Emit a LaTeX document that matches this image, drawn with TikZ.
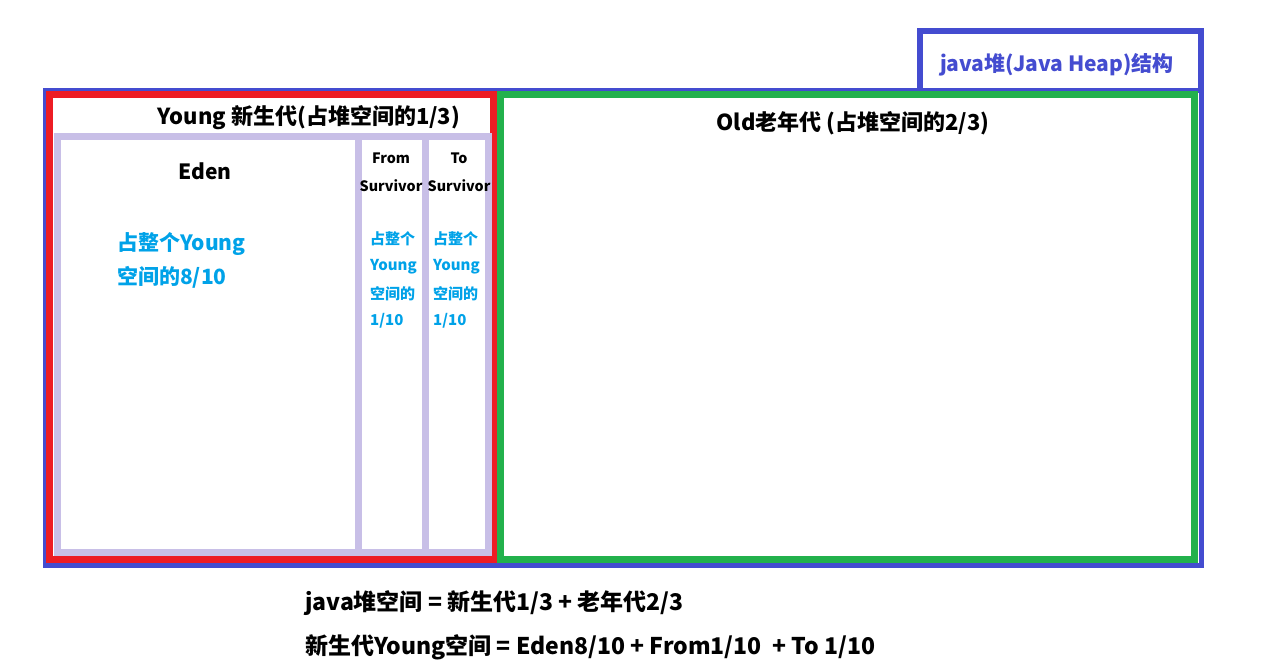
\documentclass[tikz,border=0pt]{standalone}
\usepackage{fontspec}
\setmainfont{Noto Sans CJK SC}
\usetikzlibrary{calc}
\definecolor{heapblue}{RGB}{68,76,208}
\definecolor{youngred}{RGB}{237,28,36}
\definecolor{oldgreen}{RGB}{34,177,76}
\definecolor{lavender}{RGB}{200,191,231}
\definecolor{notecyan}{RGB}{0,162,232}
\tikzset{
  title/.style={font=\bfseries\fontsize{22}{24}\selectfont, inner sep=0pt},
  small/.style={font=\bfseries\fontsize{14.3}{16}\selectfont, inner sep=0pt},
  note/.style={font=\bfseries\fontsize{21}{24}\selectfont, text=notecyan, inner sep=0pt, anchor=west},
  smallnote/.style={font=\bfseries\fontsize{15}{17}\selectfont, text=notecyan, inner sep=0pt, anchor=west},
  formula/.style={font=\bfseries\fontsize{23}{26}\selectfont, inner sep=0pt, anchor=west}
}
\begin{document}
\begin{tikzpicture}[x=1pt,y=-1pt]
\useasboundingbox (0,0) rectangle (1266,670);
\coordinate (H1) at (45.5,90.5); \coordinate (H2) at (1201.5,565.5);
% heap frame and heading tab
\draw[heapblue,line width=5pt] (H1) rectangle (H2);
\draw[heapblue,line width=6pt] (920,90) -- (920,31) -- (1201,31) -- (1201,90);
\node[title,text=heapblue,font=\bfseries\fontsize{21}{24}\selectfont] (heap) at (1057,65) {java堆(Java Heap)结构};
% young and old generation
\draw[youngred,line width=7pt] (49.5,94.5) rectangle (493.5,559.5);
\draw[oldgreen,line width=7pt] (500.5,94.5) rectangle (1194.5,559.5);
\draw[lavender,line width=7pt] (57.5,136.5) rectangle (488.5,552.5);
\draw[lavender,line width=7pt] (358.5,136.5) -- (358.5,552.5);
\draw[lavender,line width=7pt] (425,136.5) -- (425,552.5);
\node[title] (young) at (309,118) {Young 新生代(占堆空间的1/3)};
\node[title] (old) at (853,123) {Old老年代 (占堆空间的2/3)};
% eden
\node[title,font=\bfseries\fontsize{21}{24}\selectfont] (eden) at (205,171) {Eden};
\node[note] (eden1) at (117,244) {占整个Young};
\node[note] (eden2) at (117,277) {空间的8/10};
% survivors
\foreach \nm/\x/\top/\l in {from/391/From/370, to/459/To/433}{
  \node[small] (\nm a) at (\x,158) {\top};
  \node[small] (\nm b) at (\x,186) {Survivor};
  \node[smallnote] (\nm c) at (\l,239) {占整个};
  \node[smallnote] (\nm d) at (\l,267) {Young};
  \node[smallnote] (\nm e) at (\l,294) {空间的};
  \node[smallnote] (\nm f) at (\l,321) {1/10};
}
% formulas
\node[formula] (f1) at (305,603) {java堆空间 = 新生代1/3 + 老年代2/3};
\node[formula] (f2) at (305,647) {新生代Young空间 = Eden8/10 + From1/10 \ + To 1/10};
\end{tikzpicture}
\end{document}
